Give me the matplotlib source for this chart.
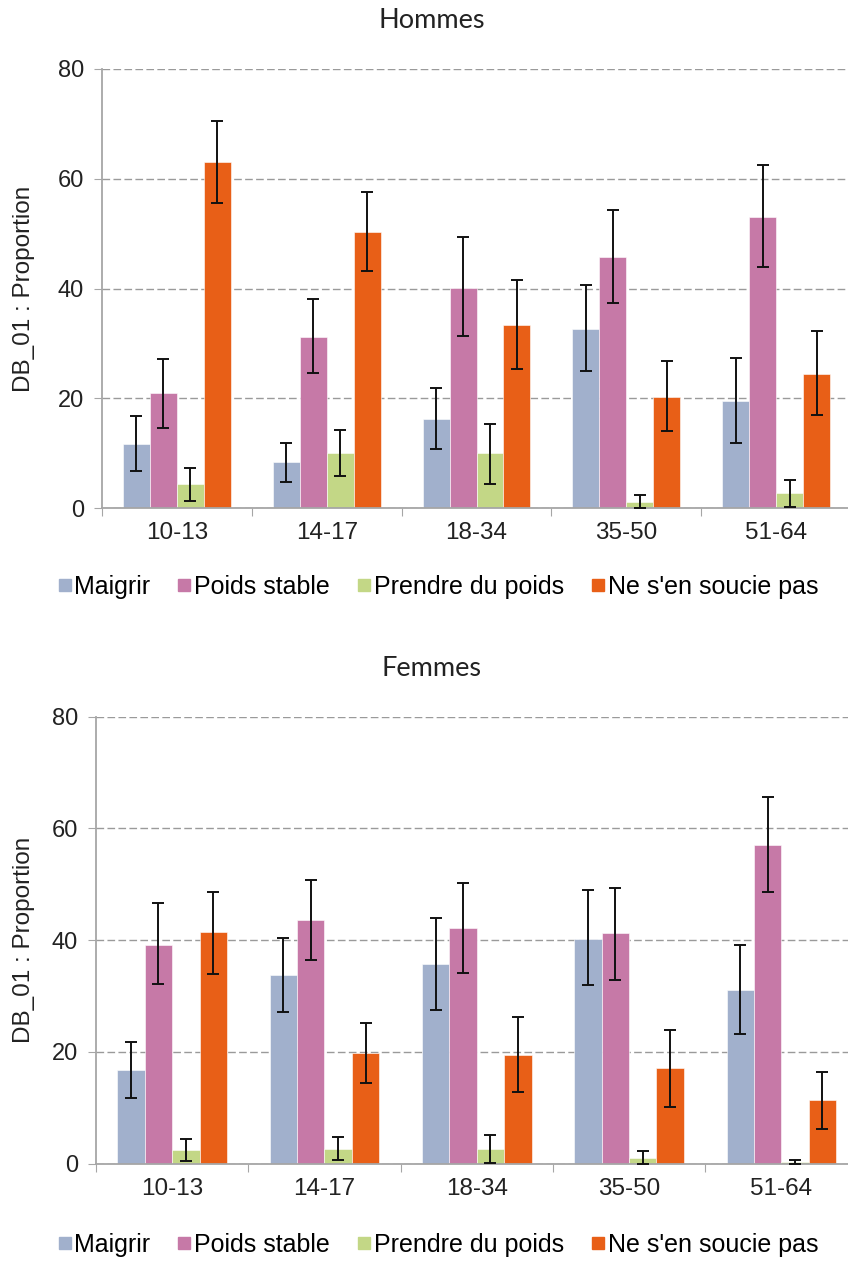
import matplotlib
matplotlib.use("Agg")
import matplotlib.pyplot as plt
from matplotlib.lines import Line2D
import numpy as np

plt.rcParams['font.family'] = ['Liberation Sans', 'DejaVu Sans']

# Données (proportions en %, avec bornes des intervalles de confiance)
ages = ['10-13', '14-17', '18-34', '35-50', '51-64']
series = ['Maigrir', 'Poids stable', 'Prendre du poids', "Ne s'en soucie pas"]
colors = ['#A1B0CC', '#C679A7', '#C3D786', '#E85F17']

hommes = [
    [11.7, 8.4, 16.3, 32.6, 19.6],
    [20.9, 31.2, 40.1, 45.7, 53.0],
    [4.4, 10.1, 10.1, 1.1, 2.7],
    [63.0, 50.2, 33.4, 20.3, 24.5],
]
hommes_lo = [
    [6.7, 4.8, 10.8, 24.9, 11.8],
    [14.6, 24.6, 31.4, 37.4, 43.9],
    [1.3, 5.9, 4.5, 0.0, 0.2],
    [55.6, 43.1, 25.4, 14.1, 17.0],
]
hommes_hi = [
    [16.8, 11.8, 21.9, 40.6, 27.4],
    [27.1, 38.0, 49.3, 54.2, 62.4],
    [7.3, 14.3, 15.4, 2.4, 5.1],
    [70.5, 57.5, 41.5, 26.8, 32.2],
]

femmes = [
    [16.8, 33.8, 35.7, 40.3, 31.1],
    [39.2, 43.6, 42.2, 41.2, 57.1],
    [2.5, 2.7, 2.7, 1.1, 0.3],
    [41.4, 19.8, 19.5, 17.1, 11.4],
]
femmes_lo = [
    [11.8, 27.2, 27.5, 31.9, 23.2],
    [32.1, 36.5, 34.2, 32.9, 48.6],
    [0.4, 0.7, 0.2, 0.0, 0.0],
    [34.0, 14.5, 12.9, 10.2, 6.2],
]
femmes_hi = [
    [21.8, 40.4, 44.0, 48.9, 39.1],
    [46.7, 50.8, 50.2, 49.4, 65.7],
    [4.5, 4.8, 5.1, 2.3, 0.7],
    [48.6, 25.1, 26.2, 24.0, 16.5],
]

W, H = 848, 1261
fig = plt.figure(figsize=(W / 100, H / 100), dpi=100)

grid_col = '#9A9A9A'
spine_col = '#A6A6A6'
text_col = '#222222'
bar_w = 0.18


def draw_panel(rect, vals, lo, hi, title, title_y, legend_y):
    ax = fig.add_axes(rect)
    x = np.arange(len(ages))
    for i, name in enumerate(series):
        v = np.array(vals[i])
        yerr = [v - np.array(lo[i]), np.array(hi[i]) - v]
        pos = x + (i - 1.5) * bar_w
        ax.bar(pos, v, width=bar_w, color=colors[i], edgecolor='white',
               linewidth=0.4, zorder=2)
        ax.errorbar(pos, v, yerr=yerr, fmt='none', ecolor='#111111',
                    elinewidth=1.4, capsize=4.5, capthick=1.4, zorder=3)

    ax.set_xlim(-0.5, 4.5)
    ax.set_ylim(0, 80)
    ax.set_yticks([0, 20, 40, 60, 80])
    ax.tick_params(axis='y', length=6, color=spine_col, labelsize=17,
                   pad=7, labelcolor=text_col)
    # graduations aux limites des groupes, étiquettes au centre
    ax.set_xticks(np.arange(-0.5, 5, 1))
    ax.set_xticklabels([])
    ax.set_xticks(x, minor=True)
    ax.set_xticklabels(ages, minor=True, fontsize=17.5, color=text_col)
    ax.tick_params(axis='x', which='major', length=6, color=spine_col)
    ax.tick_params(axis='x', which='minor', length=0, pad=10)

    ax.yaxis.grid(True, color=grid_col, linestyle=(0, (5.5, 2.4)),
                  linewidth=1.0, zorder=0)
    ax.set_axisbelow(True)
    for s in ['top', 'right']:
        ax.spines[s].set_visible(False)
    for s in ['left', 'bottom']:
        ax.spines[s].set_color(spine_col)
        ax.spines[s].set_linewidth(1.3)

    fig.text(432 / W, 1 - title_y / H, title, ha='center', va='center',
             fontsize=19.5, family=['Lato', 'DejaVu Sans'], color=text_col)
    fig.text(24 / W, rect[1] + rect[3] / 2, 'DB_01 : Proportion',
             rotation=90, ha='center', va='center', fontsize=17.5,
             color=text_col)

    handles = [Line2D([], [], marker='s', linestyle='none', markersize=8.5,
                      markerfacecolor=c, markeredgecolor=c) for c in colors]
    fig.legend(handles, series, loc='center',
               bbox_to_anchor=(437 / W, 1 - legend_y / H), ncol=4,
               frameon=False, handletextpad=0.05,
               columnspacing=1.0, handlelength=0.7,
               prop={'family': ['Liberation Sans'], 'size': 18})
    return ax


draw_panel([102 / W, 1 - 508.3 / H, 749 / W, 439.6 / H],
           hommes, hommes_lo, hommes_hi, 'Hommes', 21, 587)
draw_panel([96 / W, 1 - 1163.7 / H, 761.5 / W, 447 / H],
           femmes, femmes_lo, femmes_hi, 'Femmes', 668, 1245)

fig.savefig('out.png', dpi=100)
